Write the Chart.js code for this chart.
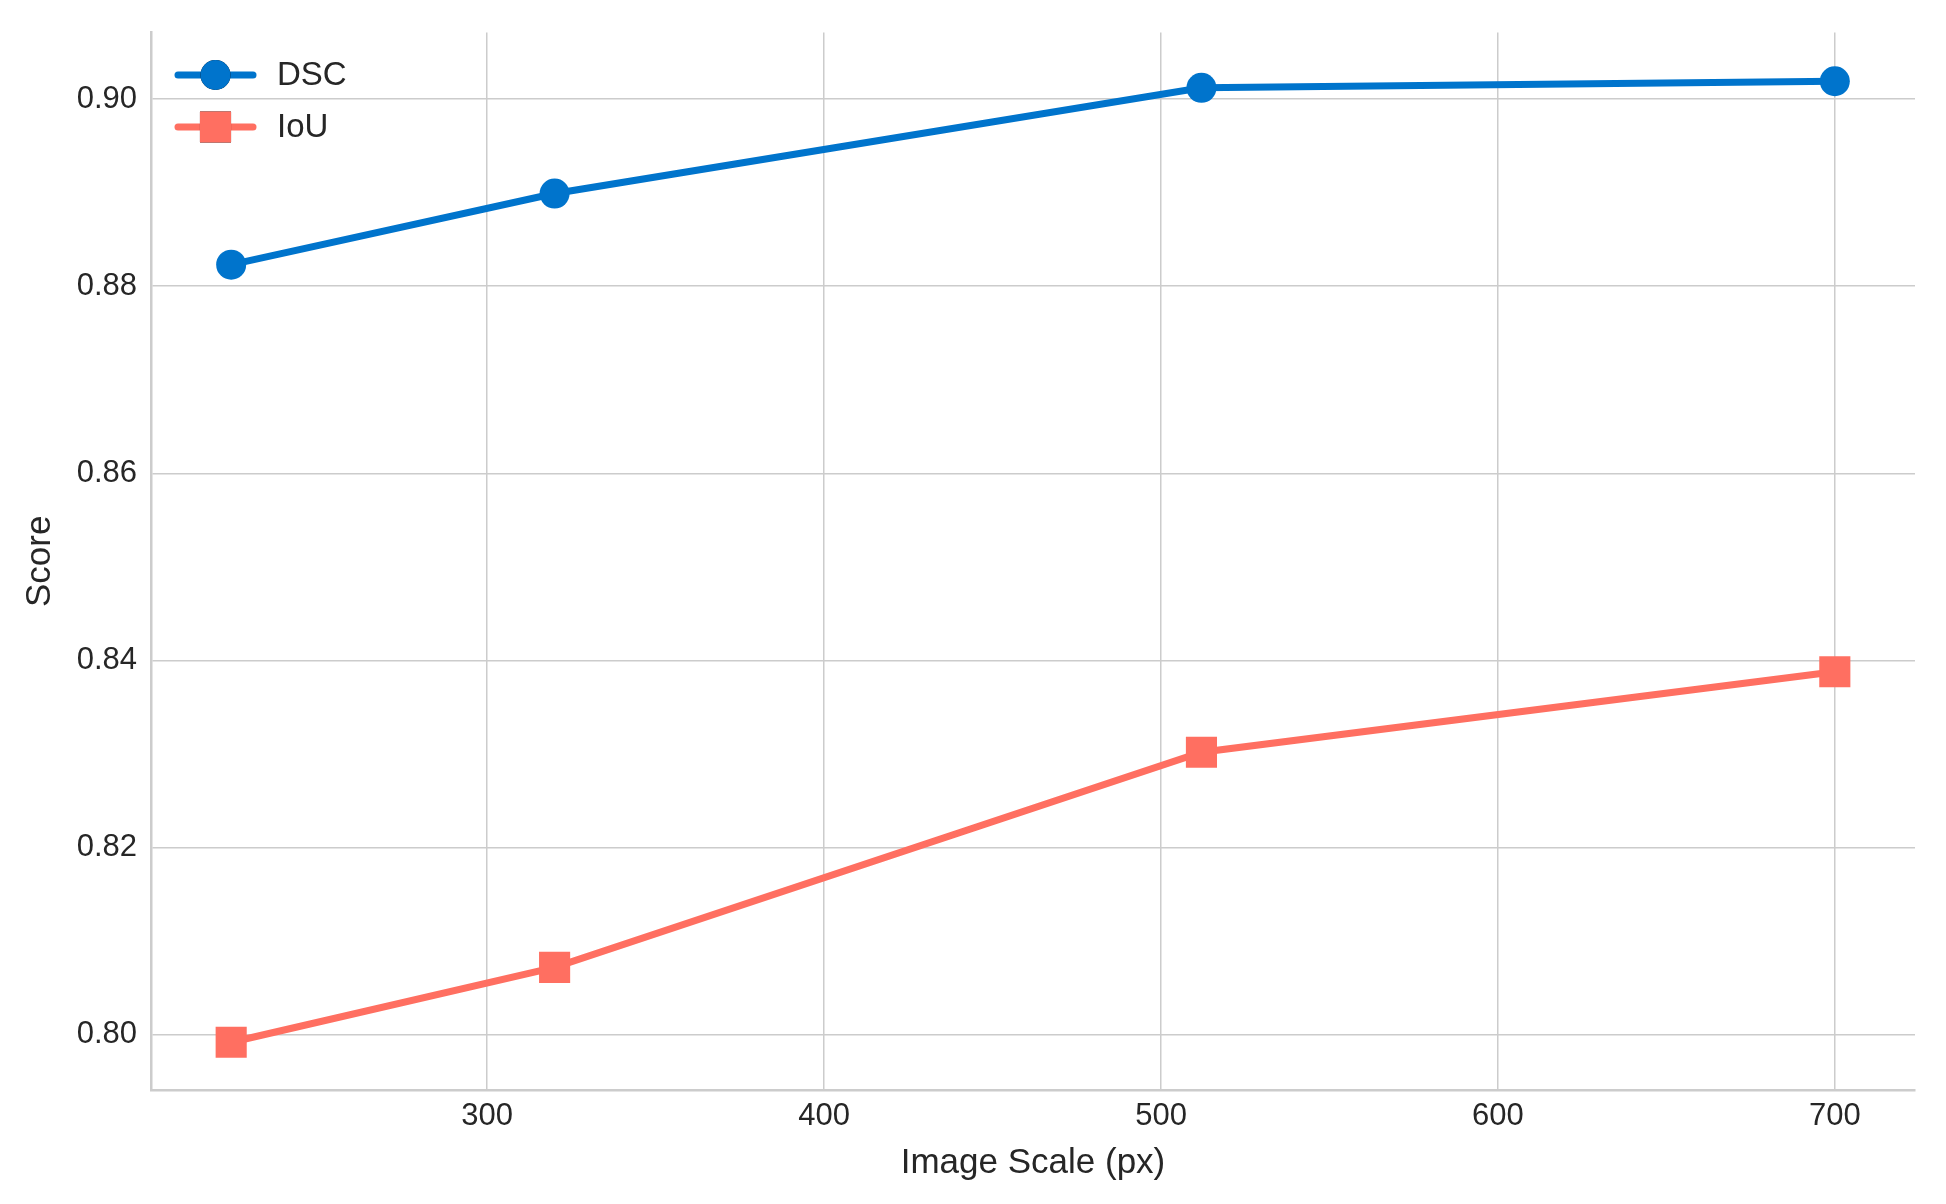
<!DOCTYPE html>
<html>
<head>
<meta charset="utf-8">
<script src="https://cdn.jsdelivr.net/npm/chart.js@4.4.1/dist/chart.umd.min.js"></script>
<style>
    html, body { margin: 0; padding: 0; background: #ffffff; }
    canvas { display: block; }
</style>
</head>
<body>
<canvas id="scaleChart" width="1946" height="1204"></canvas>
<script>
// Image scale on the x axis, one score list per metric
const imageScales = [224, 320, 512, 700];
const dscScores = [0.8823, 0.8899, 0.9012, 0.9019];
const iouScores = [0.7992, 0.8072, 0.8302, 0.8388];
const xTickValues = [300, 400, 500, 600, 700];
const yTickValues = [0.80, 0.82, 0.84, 0.86, 0.88, 0.90];

const fontFamily = '"Liberation Sans", Arial, sans-serif';
const textColour = '#262626';
const gridColour = '#cccccc';

Chart.defaults.font.family = fontFamily;
Chart.defaults.color = textColour;

// Draw legend inside the plot like matplotlib does (line + marker + label)
const insideLegend = {
    id: 'insideLegend',
    afterDraw(chart) {
        const ctx = chart.ctx;
        const rows = [75, 127];
        chart.data.datasets.forEach((ds, i) => {
            const y = rows[i];
            ctx.save();
            ctx.strokeStyle = ds.borderColor;
            ctx.lineWidth = ds.borderWidth;
            ctx.lineCap = 'round';
            ctx.beginPath();
            ctx.moveTo(178, y);
            ctx.lineTo(253, y);
            ctx.stroke();
            Chart.helpers.drawPoint(ctx, {
                pointStyle: ds.pointStyle,
                radius: ds.pointRadius,
                borderWidth: 0
            }, 215.5, y);
            ctx.fillStyle = ds.pointBackgroundColor;
            ctx.fill();
            ctx.fillStyle = textColour;
            ctx.font = '33px ' + fontFamily;
            ctx.textBaseline = 'middle';
            ctx.fillText(ds.label, 277, y + 1);
            ctx.restore();
        });
    }
};

const chartConfig = {
    type: 'line',
    data: {
        datasets: [{
            label: 'DSC',
            data: imageScales.map((x, i) => ({ x: x, y: dscScores[i] })),
            borderColor: '#0074CC',
            backgroundColor: '#0074CC',
            pointBackgroundColor: '#0074CC',
            pointBorderColor: '#0074CC',
            borderWidth: 7,
            pointStyle: 'circle',
            pointRadius: 15,
            pointBorderWidth: 0,
            tension: 0
        }, {
            label: 'IoU',
            data: imageScales.map((x, i) => ({ x: x, y: iouScores[i] })),
            borderColor: '#FF6F61',
            backgroundColor: '#FF6F61',
            pointBackgroundColor: '#FF6F61',
            pointBorderColor: '#FF6F61',
            borderWidth: 7,
            pointStyle: 'rect',
            pointRadius: 22,
            pointBorderWidth: 0,
            tension: 0
        }]
    },
    options: {
        responsive: false,
        animation: false,
        layout: {
            padding: { left: 0, top: 27, right: 31, bottom: 0 }
        },
        scales: {
            x: {
                type: 'linear',
                min: 200.2,
                max: 723.8,
                afterBuildTicks: (scale) => {
                    scale.ticks = xTickValues.map(v => ({ value: v }));
                },
                afterFit: (scale) => { scale.height = 114; },
                ticks: {
                    font: { size: 31 },
                    color: textColour,
                    padding: 8,
                    maxRotation: 0
                },
                grid: {
                    color: gridColour,
                    lineWidth: 1.5,
                    drawTicks: false
                },
                border: { display: true, color: gridColour, width: 2.5 },
                title: {
                    display: true,
                    text: 'Image Scale (px)',
                    font: { size: 35 },
                    color: textColour,
                    padding: { top: 0, bottom: 20 }
                }
            },
            y: {
                type: 'linear',
                min: 0.7941,
                max: 0.9071,
                afterBuildTicks: (scale) => {
                    scale.ticks = yTickValues.map(v => ({ value: v }));
                },
                afterFit: (scale) => { scale.width = 151; },
                ticks: {
                    font: { size: 31 },
                    color: textColour,
                    padding: 14,
                    callback: (v) => v.toFixed(2)
                },
                grid: {
                    color: gridColour,
                    lineWidth: 1.5,
                    drawTicks: false
                },
                border: { display: true, color: gridColour, width: 2.5 },
                title: {
                    display: true,
                    text: 'Score',
                    font: { size: 35 },
                    color: textColour,
                    padding: { top: 19, bottom: 0 }
                }
            }
        },
        plugins: {
            legend: { display: false },
            tooltip: { enabled: false }
        }
    },
    plugins: [insideLegend]
};

const scaleChart = new Chart('scaleChart', chartConfig);
</script>
</body>
</html>
